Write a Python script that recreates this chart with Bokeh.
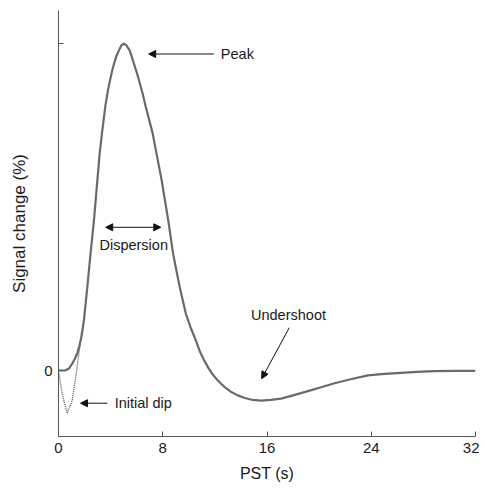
from bokeh.plotting import figure
from bokeh.models import FixedTicker, Range1d, Arrow, NormalHead, Label
from bokeh.embed import file_html
from bokeh.resources import INLINE

# Data
pst_s = [0, 0.5, 0.8, 1.05, 1.25, 1.44, 1.6, 1.75, 1.95, 2.21, 2.46, 2.72, 2.98, 3.15, 3.36,
         3.6, 3.8, 3.95, 4.1, 4.26, 4.45, 4.64, 4.82, 5.02, 5.22, 5.46, 5.62, 5.79, 6.0,
         6.18, 6.45, 6.7, 6.95, 7.21, 7.5, 7.92, 8.42, 8.79, 9.31, 9.77, 10.15, 10.54,
         10.85, 11.18, 11.5, 11.8, 12.1, 12.46, 12.8, 13.2, 13.75, 14.3, 14.9, 15.54,
         16.3, 17.08, 18.0, 18.87, 20.15, 21.18, 22.5, 23.75, 25.0, 26.3, 27.5, 28.87,
         30.5, 32]
signal = [0, 0, 0.006, 0.021, 0.035, 0.052, 0.075, 0.101, 0.153, 0.254, 0.358, 0.459, 0.581,
          0.66, 0.734, 0.81, 0.858, 0.887, 0.914, 0.938, 0.962, 0.979, 0.994, 1.0, 0.994,
          0.979, 0.96, 0.938, 0.912, 0.887, 0.848, 0.806, 0.768, 0.728, 0.668, 0.581, 0.459,
          0.358, 0.254, 0.174, 0.13, 0.092, 0.058, 0.031, 0.008, -0.01, -0.025, -0.040,
          -0.052, -0.064, -0.076, -0.084, -0.09, -0.092, -0.09, -0.086, -0.076, -0.066,
          -0.051, -0.039, -0.026, -0.015, -0.01, -0.007, -0.004, -0.002, -0.001, -0.001]

dip_pst = [0, 0.28, 0.67, 1.05, 1.36, 1.56, 1.77]
dip_signal = [0, -0.071, -0.131, -0.092, -0.010, 0.051, 0.113]

x_ticks = [0, 8, 16, 24, 32]
y_ticks = [0, 1]
y_tick_labels = {0: "0", 1: ""}

FONT = "Liberation Sans"
TXT = "#1a1a1a"

p = figure(frame_width=417, frame_height=426, output_backend="svg", toolbar_location=None,
           x_range=Range1d(0, 32), y_range=Range1d(-0.2018, 1.101),
           min_border_left=58, min_border_right=4, min_border_top=10, min_border_bottom=44)
p.outline_line_color = None
p.grid.visible = False
p.background_fill_color = "white"
p.border_fill_color = "white"

for ax in (p.xaxis[0], p.yaxis[0]):
    ax.axis_line_color = "#555555"
    ax.major_tick_line_color = "#555555"
    ax.major_tick_in = 5
    ax.major_tick_out = 0
    ax.minor_tick_line_color = None
    ax.major_label_text_font = FONT
    ax.major_label_text_font_size = "15px"
    ax.major_label_text_color = TXT
    ax.axis_label_text_font = FONT
    ax.axis_label_text_font_style = "normal"
    ax.axis_label_text_color = TXT

p.xaxis.ticker = FixedTicker(ticks=x_ticks)
p.yaxis.ticker = FixedTicker(ticks=y_ticks)
p.yaxis.major_label_overrides = y_tick_labels
p.xaxis.axis_label = "PST (s)"
p.yaxis.axis_label = "Signal change (%)"
p.xaxis.axis_label_text_font_size = "16px"
p.yaxis.axis_label_text_font_size = "17px"
p.xaxis.major_label_standoff = 6
p.yaxis.major_label_standoff = 6
p.xaxis.axis_label_standoff = 9
p.yaxis.axis_label_standoff = 12

p.line(dip_pst, dip_signal, line_color="#555555", line_width=1.3, line_dash="1 1")
p.line(pst_s, signal, line_color="#6a6a6a", line_width=2.2, line_join="round")

def arrow(x0, y0, x1, y1, both=False):
    p.add_layout(Arrow(x_start=x0, y_start=y0, x_end=x1, y_end=y1,
                       line_color="#111111", line_width=1,
                       end=NormalHead(size=7, fill_color="#111111", line_color="#111111"),
                       start=NormalHead(size=7, fill_color="#111111", line_color="#111111") if both else None))

def label(x, y, t, align):
    p.add_layout(Label(x=x, y=y, text=t, text_font=FONT, text_font_size="14.5px",
                       text_color=TXT, text_align=align, text_baseline="middle"))

arrow(11.92, 0.968, 6.92, 0.968)
label(12.46, 0.968, "Peak", "left")
arrow(3.62, 0.438, 7.85, 0.438, both=True)
label(5.77, 0.385, "Dispersion", "center")
arrow(17.71, 0.131, 15.59, -0.025)
label(17.65, 0.171, "Undershoot", "center")
arrow(3.75, -0.100, 1.69, -0.100)
label(4.31, -0.100, "Initial dip", "left")

open("out.html", "w").write(file_html(p, INLINE))
